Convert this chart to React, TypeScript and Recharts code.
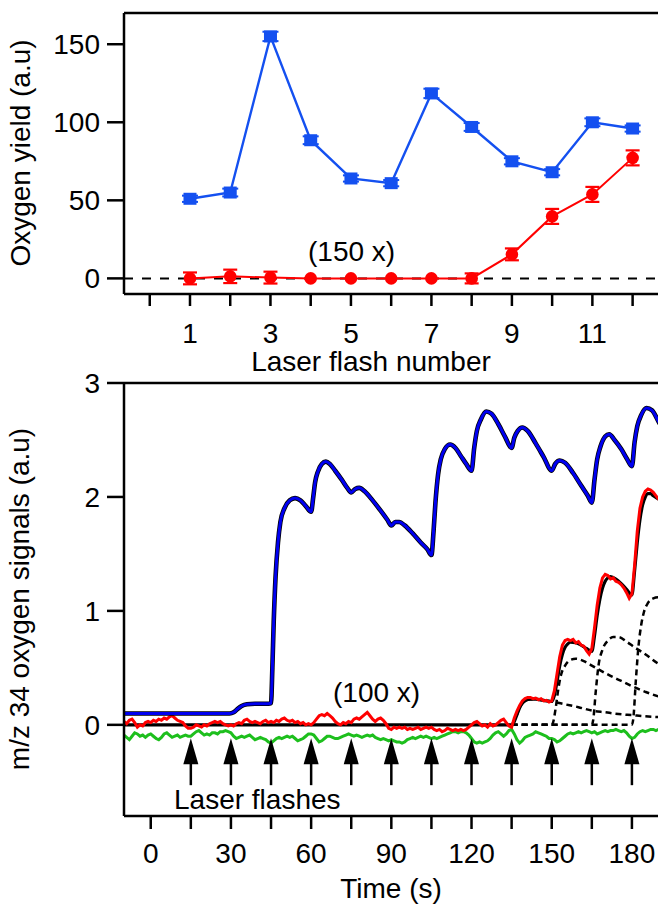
import React from 'react';
import { ComposedChart, Line, XAxis, YAxis, ErrorBar, ReferenceLine, Scatter } from 'recharts';

// ---------- Top panel data ----------
const flashNumbers = [1, 2, 3, 4, 5, 6, 7, 8, 9, 10, 11, 12];
const blueYield = [51, 55, 155, 88.5, 64, 61, 118.5, 97, 75, 68, 100, 96];
const blueErr = [2, 2.5, 3, 2.5, 2, 2, 3, 2.5, 2, 2, 2.5, 2];
const redYield = [0, 1.3, 0.5, 0, 0, 0, 0, 0, 15.4, 39.7, 53.8, 77.2];
const redErr = [3.8, 4.3, 3.8, 0, 0, 0, 0, 3.2, 3.8, 4.8, 4.8, 4.8];
const topXTicks = [0, 1, 2, 3, 4, 5, 6, 7, 8, 9, 10, 11, 12];
const topYTicks = [0, 50, 100, 150];

// ---------- Bottom panel data ([time s, signal a.u]) ----------
const blueSignal: [number, number][] = [
  [-10, 0.1], [29.5, 0.1], [31, 0.11], [32.5, 0.14], [34, 0.165], [36, 0.18], [39, 0.185], [44, 0.185], [45, 0.19],
  [45.5, 0.5], [46, 0.9], [46.7, 1.3], [47.6, 1.6], [48.5, 1.78], [50, 1.9], [52, 1.97], [54, 1.99], [56, 1.97],
  [58, 1.92], [60, 1.87], [60.8, 2.0], [61.5, 2.13], [62.5, 2.22], [64, 2.29], [65.5, 2.31], [67, 2.29], [69, 2.23],
  [71.5, 2.15], [73.5, 2.08], [75, 2.04], [76.5, 2.07], [78, 2.08], [80, 2.05], [83, 1.97], [86, 1.88], [88.5, 1.8],
  [90, 1.75], [91.5, 1.78], [93, 1.78], [95, 1.75], [98, 1.68], [101, 1.6], [103.5, 1.54], [105, 1.49], [105.8, 1.7],
  [106.5, 1.95], [107.5, 2.2], [108.5, 2.33], [110, 2.42], [112, 2.46], [114, 2.43], [116, 2.36], [118, 2.29],
  [120, 2.23], [121, 2.43], [122, 2.58], [123.5, 2.68], [125.5, 2.75], [127.5, 2.73], [130, 2.64], [132.5, 2.53],
  [135, 2.43], [136, 2.52], [137.3, 2.58], [139, 2.61], [141, 2.58], [144, 2.47], [147, 2.35], [150, 2.23],
  [151.3, 2.29], [153, 2.32], [155, 2.3], [158, 2.21], [161, 2.1], [163.5, 2.01], [165, 1.95], [166, 2.15],
  [167, 2.33], [168.2, 2.44], [170, 2.53], [171.5, 2.55], [173.5, 2.5], [176, 2.42], [178, 2.34], [180, 2.27],
  [181, 2.48], [182, 2.62], [183.5, 2.72], [185.5, 2.78], [187.5, 2.76], [190, 2.66], [192, 2.58],
];

const fitSum: [number, number][] = [
  [-10, 0], [135, 0], [136, 0.03], [137, 0.09], [138, 0.15], [139, 0.19], [140, 0.21], [142, 0.225], [144, 0.225],
  [147, 0.215], [150, 0.205], [151, 0.26], [152, 0.38], [153, 0.52], [154, 0.62], [155, 0.68], [156, 0.71],
  [157, 0.725], [159, 0.72], [161, 0.7], [163, 0.67], [165, 0.645], [166, 0.78], [167, 0.96], [168, 1.1], [169, 1.2],
  [170, 1.26], [171, 1.29], [172, 1.3], [174, 1.28], [176, 1.24], [178, 1.19], [180, 1.14], [181, 1.35], [182, 1.6],
  [183, 1.8], [184, 1.93], [185, 2.0], [186, 2.03], [187, 2.03], [188, 2.01], [190, 1.98], [192, 1.95],
];

const comp1: [number, number][] = [
  [135, 0], [136, 0.03], [137, 0.09], [138, 0.15], [139, 0.19], [140, 0.21], [142, 0.225], [145, 0.22], [150, 0.205],
  [155, 0.18], [160, 0.155], [165, 0.125], [170, 0.11], [175, 0.095], [180, 0.085], [185, 0.075], [192, 0.065],
];
const comp2: [number, number][] = [
  [135, 0], [150, 0], [150.5, 0.02], [151.5, 0.15], [152.5, 0.32], [153.5, 0.44], [155, 0.52], [157, 0.57],
  [159, 0.58], [162, 0.56], [165, 0.52], [168, 0.48], [172, 0.43], [176, 0.385], [180, 0.34], [185, 0.29],
  [190, 0.25], [192, 0.24],
];
const comp3: [number, number][] = [
  [135, 0], [165, 0], [165.5, 0.04], [166.5, 0.3], [167.5, 0.52], [169, 0.66], [171, 0.74], [173, 0.77], [175, 0.77],
  [178, 0.73], [181, 0.68], [185, 0.62], [189.6, 0.54], [192, 0.51],
];
const comp4: [number, number][] = [
  [135, 0], [180, 0], [180.5, 0.05], [181.5, 0.4], [182.5, 0.7], [183.5, 0.88], [184.5, 0.99], [186, 1.07],
  [188, 1.11], [190, 1.12], [192, 1.12],
];

const redSignal: [number, number][] = [
  [-10, 0.03], [-9, 0.01], [-8, 0.04], [-7, 0.05], [-6, 0.02], [-5, -0.02], [-4, 0.0], [-3, -0.01], [-2, 0.02],
  [-1, 0.03], [0, 0.02], [1, 0.04], [2, 0.03], [3, 0.05], [4, 0.04], [5, 0.06], [6, 0.05], [7, 0.07], [8, 0.08],
  [9, 0.06], [10, 0.04], [11, 0.03], [12, 0.02], [13, -0.01], [14, -0.03], [15, -0.03], [16, -0.02], [17, 0.0],
  [18, -0.01], [19, -0.02], [20, 0.0], [21, -0.01], [22, 0.01], [23, 0.02], [24, 0.03], [25, 0.02], [26, 0.03],
  [27, 0.01], [28, 0.0], [29, -0.01], [30, 0.0], [31, -0.01], [32, 0.01], [33, 0.02], [34, 0.01], [35, 0.04],
  [36, 0.05], [37, 0.03], [38, 0.02], [39, 0.03], [40, 0.02], [41, 0.01], [42, 0.03], [43, 0.04], [44, 0.02],
  [45, 0.03], [46, 0.02], [47, 0.04], [48, 0.03], [49, 0.05], [50, 0.06], [51, 0.04], [52, 0.03], [53, 0.04],
  [54, 0.02], [55, 0.03], [56, 0.01], [57, 0.02], [58, 0.0], [59, 0.01], [60, 0.0], [61, 0.02], [62, 0.05],
  [63, 0.08], [64, 0.09], [65, 0.08], [66, 0.1], [67, 0.08], [68, 0.06], [69, 0.03], [70, 0.01], [71, 0.0],
  [72, 0.02], [73, 0.01], [74, 0.03], [75, 0.02], [76, 0.05], [77, 0.06], [78, 0.05], [79, 0.07], [80, 0.09],
  [81, 0.11], [82, 0.08], [83, 0.05], [84, 0.03], [85, 0.05], [86, 0.06], [87, 0.04], [88, 0.01], [89, -0.03],
  [90, -0.04], [91, -0.02], [92, -0.03], [93, -0.02], [94, -0.03], [95, -0.02], [96, -0.04], [97, -0.03],
  [98, -0.04], [99, -0.03], [100, -0.02], [101, -0.04], [102, -0.03], [103, -0.02], [104, -0.03], [105, -0.02],
  [106, -0.04], [107, -0.05], [108, -0.04], [109, -0.06], [110, -0.05], [111, -0.03], [112, -0.04], [113, -0.05],
  [114, -0.04], [115, -0.05], [116, -0.04], [117, -0.05], [118, -0.04], [119, -0.02], [120, 0.0], [121, 0.02],
  [122, 0.03], [123, 0.01], [124, -0.01], [125, 0.0], [126, -0.02], [127, 0.01], [128, -0.01], [129, 0.0],
  [130, 0.02], [131, 0.04], [132, 0.05], [133, 0.02], [134, -0.01], [135, -0.02], [136, 0.06], [137, 0.12],
  [138, 0.17], [139, 0.21], [140, 0.23], [141, 0.24], [142, 0.24], [143, 0.23], [144, 0.235], [145, 0.22],
  [146, 0.23], [147, 0.21], [148, 0.215], [149, 0.2], [150, 0.21], [151, 0.3], [152, 0.45], [153, 0.6], [154, 0.7],
  [155, 0.74], [156, 0.75], [157, 0.74], [158, 0.75], [159, 0.72], [160, 0.73], [161, 0.7], [162, 0.69],
  [163, 0.65], [164, 0.62], [165, 0.67], [166, 0.85], [167, 1.05], [168, 1.2], [169, 1.29], [170, 1.32],
  [171, 1.31], [172, 1.28], [173, 1.29], [174, 1.26], [175, 1.25], [176, 1.23], [177, 1.2], [178, 1.16],
  [179, 1.11], [180, 1.15], [181, 1.4], [182, 1.7], [183, 1.9], [184, 2.0], [185, 2.05], [186, 2.07], [187, 2.06],
  [188, 2.04], [189, 2.01], [190, 1.98], [192, 1.95],
];

const greenSignal: [number, number][] = [
  [-10, -0.09], [-9, -0.11], [-8, -0.13], [-7, -0.1], [-6, -0.07], [-5, -0.08], [-4, -0.1], [-3, -0.09],
  [-2, -0.11], [-1, -0.09], [0, -0.08], [1, -0.1], [2, -0.12], [3, -0.13], [4, -0.11], [5, -0.08], [6, -0.07],
  [7, -0.09], [8, -0.11], [9, -0.1], [10, -0.09], [11, -0.11], [12, -0.1], [13, -0.09], [14, -0.1], [15, -0.1],
  [16, -0.08], [17, -0.06], [18, -0.05], [19, -0.07], [20, -0.09], [21, -0.08], [22, -0.09], [23, -0.07],
  [24, -0.07], [25, -0.08], [26, -0.06], [27, -0.06], [28, -0.05], [29, -0.06], [30, -0.07], [31, -0.1],
  [32, -0.12], [33, -0.11], [34, -0.1], [35, -0.11], [36, -0.1], [37, -0.09], [38, -0.11], [39, -0.13],
  [40, -0.12], [41, -0.11], [42, -0.12], [43, -0.13], [44, -0.15], [45, -0.16], [46, -0.14], [47, -0.12],
  [48, -0.11], [49, -0.12], [50, -0.11], [51, -0.1], [52, -0.11], [53, -0.1], [54, -0.12], [55, -0.14],
  [56, -0.13], [57, -0.12], [58, -0.1], [59, -0.08], [60, -0.08], [61, -0.09], [62, -0.12], [63, -0.15],
  [64, -0.14], [65, -0.12], [66, -0.1], [67, -0.1], [68, -0.11], [69, -0.12], [70, -0.12], [71, -0.11],
  [72, -0.1], [73, -0.09], [74, -0.08], [75, -0.09], [76, -0.1], [77, -0.09], [78, -0.1], [79, -0.11], [80, -0.1],
  [81, -0.09], [82, -0.1], [83, -0.09], [84, -0.11], [85, -0.12], [86, -0.13], [87, -0.12], [88, -0.13],
  [89, -0.14], [90, -0.13], [91, -0.14], [92, -0.15], [93, -0.15], [94, -0.16], [95, -0.15], [96, -0.13],
  [97, -0.12], [98, -0.11], [99, -0.12], [100, -0.11], [101, -0.1], [102, -0.11], [103, -0.1], [104, -0.11],
  [105, -0.12], [106, -0.11], [107, -0.12], [108, -0.11], [109, -0.1], [110, -0.09], [111, -0.08], [112, -0.07],
  [113, -0.06], [114, -0.06], [115, -0.07], [116, -0.06], [117, -0.06], [118, -0.07], [119, -0.09], [120, -0.12],
  [121, -0.15], [122, -0.16], [123, -0.15], [124, -0.16], [125, -0.15], [126, -0.14], [127, -0.12], [128, -0.09],
  [129, -0.07], [130, -0.06], [131, -0.08], [132, -0.1], [133, -0.08], [134, -0.05], [135, -0.04], [136, -0.08],
  [137, -0.13], [138, -0.16], [139, -0.14], [140, -0.11], [141, -0.1], [142, -0.09], [143, -0.08], [144, -0.06],
  [145, -0.07], [146, -0.08], [147, -0.09], [148, -0.1], [149, -0.12], [150, -0.12], [151, -0.13], [152, -0.15],
  [153, -0.14], [154, -0.12], [155, -0.1], [156, -0.08], [157, -0.07], [158, -0.08], [159, -0.07], [160, -0.06],
  [161, -0.07], [162, -0.06], [163, -0.05], [164, -0.06], [165, -0.07], [166, -0.06], [167, -0.08], [168, -0.07],
  [169, -0.06], [170, -0.05], [171, -0.06], [172, -0.05], [173, -0.05], [174, -0.04], [175, -0.05], [176, -0.06],
  [177, -0.05], [178, -0.07], [179, -0.1], [180, -0.12], [181, -0.11], [182, -0.08], [183, -0.06], [184, -0.05],
  [185, -0.06], [186, -0.05], [187, -0.04], [188, -0.04], [189, -0.05], [190, -0.04], [192, -0.04],
];

const flashTimes = [15, 30, 45, 60, 75, 90, 105, 120, 135, 150, 165, 180];
const arrowTipLevel = -0.117;
const bottomXTicks = [0, 15, 30, 45, 60, 75, 90, 105, 120, 135, 150, 165, 180];
const bottomYTicks = [0, 1, 2, 3];

// ---------- helpers ----------
const FONT = '"Liberation Sans", Arial, Helvetica, sans-serif';
const rows = (pts: [number, number][]) => pts.map(([t, v]) => ({ t, v }));

const topTable = flashNumbers.map((n, i) => ({
  n,
  blue: blueYield[i],
  blueErr: blueErr[i],
  red: redYield[i],
  redErr: redErr[i],
}));
const arrowRows = flashTimes.map((t) => ({ t, v: arrowTipLevel }));

const axisLine = { stroke: '#000', strokeWidth: 2.5 };
const tickLine = { stroke: '#000', strokeWidth: 2.5 };
const tickStyle = { fill: '#000', fontSize: 28, fontFamily: FONT };

const TOP_BLUE = '#1450f0';
const TOP_RED = '#ff0000';

const BlueSquare = (p: any) => {
  if (p.cx == null || p.cy == null) return <g key={p.index} />;
  return <rect key={p.index} x={p.cx - 6.5} y={p.cy - 6} width={13} height={12} fill={TOP_BLUE} />;
};
const RedCircle = (p: any) => {
  if (p.cx == null || p.cy == null) return <g key={p.index} />;
  return <circle key={p.index} cx={p.cx} cy={p.cy} r={6.3} fill={TOP_RED} />;
};

const ArrowMark = (p: any) => {
  const { cx, cy } = p;
  if (cx == null || cy == null) return <g />;
  return (
    <g>
      <line x1={cx} y1={cy + 20} x2={cx} y2={cy + 47} stroke="#000" strokeWidth={2.5} />
      <path d={`M${cx},${cy} L${cx - 7.5},${cy + 26} L${cx + 7.5},${cy + 26} Z`} fill="#000" />
    </g>
  );
};

export default function App() {
  return (
    <div
      style={{
        position: 'fixed',
        left: 0,
        top: 0,
        width: 658,
        height: 905,
        overflow: 'hidden',
        background: '#fff',
        fontFamily: FONT,
      }}
    >
      {/* Top panel */}
      <div style={{ position: 'absolute', left: 0, top: 0 }}>
        <ComposedChart width={680} height={380} data={topTable} margin={{ top: 13, right: 16, bottom: 56, left: 0 }}>
          <XAxis
            dataKey="n"
            type="number"
            domain={[-0.64, 12.78]}
            allowDataOverflow
            ticks={topXTicks}
            interval={0}
            tickFormatter={(v: number) => (v % 2 === 1 ? String(v) : '')}
            axisLine={axisLine}
            tickLine={tickLine}
            tickSize={12}
            tickMargin={17}
            tick={tickStyle}
            height={30}
          />
          <YAxis
            type="number"
            domain={[-10, 170]}
            allowDataOverflow
            ticks={topYTicks}
            interval={0}
            axisLine={axisLine}
            tickLine={tickLine}
            tickSize={17}
            tickMargin={7}
            tick={tickStyle}
            width={124}
          />
          <ReferenceLine y={170} stroke="#000" strokeWidth={2.5} />
          <ReferenceLine y={0} stroke="#000" strokeWidth={2} strokeDasharray="9 9" />
          <Line
            dataKey="red"
            stroke={TOP_RED}
            strokeWidth={2}
            dot={RedCircle}
            activeDot={false}
            isAnimationActive={false}
          >
            <ErrorBar dataKey="redErr" direction="y" width={7} strokeWidth={2.2} stroke={TOP_RED} />
          </Line>
          <Line
            dataKey="blue"
            stroke={TOP_BLUE}
            strokeWidth={2.4}
            dot={BlueSquare}
            activeDot={false}
            isAnimationActive={false}
          >
            <ErrorBar dataKey="blueErr" direction="y" width={8} strokeWidth={2} stroke={TOP_BLUE} />
          </Line>
        </ComposedChart>
      </div>

      {/* Bottom panel */}
      <div style={{ position: 'absolute', left: 0, top: 340 }}>
        <ComposedChart width={680} height={565} margin={{ top: 43, right: 16, bottom: 59, left: 0 }}>
          <XAxis
            dataKey="t"
            type="number"
            domain={[-10, 192]}
            allowDataOverflow
            ticks={bottomXTicks}
            interval={0}
            tickFormatter={(v: number) => (v % 30 === 0 ? String(v) : '')}
            axisLine={axisLine}
            tickLine={tickLine}
            tickSize={13}
            tickMargin={14}
            tick={tickStyle}
            height={30}
          />
          <YAxis
            dataKey="v"
            type="number"
            domain={[-0.8, 3]}
            allowDataOverflow
            ticks={bottomYTicks}
            interval={0}
            axisLine={axisLine}
            tickLine={tickLine}
            tickSize={17}
            tickMargin={7}
            tick={tickStyle}
            width={124}
          />
          <ReferenceLine y={3} stroke="#000" strokeWidth={2.5} />
          {[comp1, comp2, comp3, comp4].map((c, i) => (
            <Line
              key={'c' + i}
              data={rows(c)}
              dataKey="v"
              type="monotone"
              stroke="#000"
              strokeWidth={2.5}
              strokeDasharray="6 4"
              dot={false}
              activeDot={false}
              isAnimationActive={false}
            />
          ))}
          <Line
            data={rows(fitSum)}
            dataKey="v"
            type="monotone"
            stroke="#000"
            strokeWidth={3.2}
            dot={false}
            activeDot={false}
            isAnimationActive={false}
          />
          <Line
            data={rows(greenSignal)}
            dataKey="v"
            type="linear"
            stroke="#1dbf1d"
            strokeWidth={3}
            dot={false}
            activeDot={false}
            isAnimationActive={false}
          />
          <Line
            data={rows(redSignal)}
            dataKey="v"
            type="linear"
            stroke="#ff0000"
            strokeWidth={3}
            dot={false}
            activeDot={false}
            isAnimationActive={false}
          />
          <Line
            data={rows(blueSignal)}
            dataKey="v"
            type="monotone"
            stroke="#000"
            strokeWidth={4.6}
            dot={false}
            activeDot={false}
            isAnimationActive={false}
          />
          <Line
            data={rows(blueSignal)}
            dataKey="v"
            type="monotone"
            stroke="#0000f0"
            strokeWidth={3}
            dot={false}
            activeDot={false}
            isAnimationActive={false}
          />
          <Scatter data={arrowRows} dataKey="v" shape={ArrowMark} isAnimationActive={false} />
        </ComposedChart>
      </div>

      {/* Titles and annotations */}
      <svg
        width={658}
        height={905}
        style={{ position: 'absolute', left: 0, top: 0, pointerEvents: 'none' }}
        fontFamily={FONT}
        fontSize={28}
        fill="#000"
      >
        <text transform="translate(30,153) rotate(-90)" textAnchor="middle">Oxygen yield (a.u)</text>
        <text x={371} y={371} textAnchor="middle">Laser flash number</text>
        <text x={308} y={261}>(150 x)</text>
        <text transform="translate(29,599) rotate(-90)" textAnchor="middle">m/z 34 oxygen signals (a.u)</text>
        <text x={333} y={702}>(100 x)</text>
        <text x={174} y={809}>Laser flashes</text>
        <text x={391} y={898} textAnchor="middle">Time (s)</text>
      </svg>
    </div>
  );
}
